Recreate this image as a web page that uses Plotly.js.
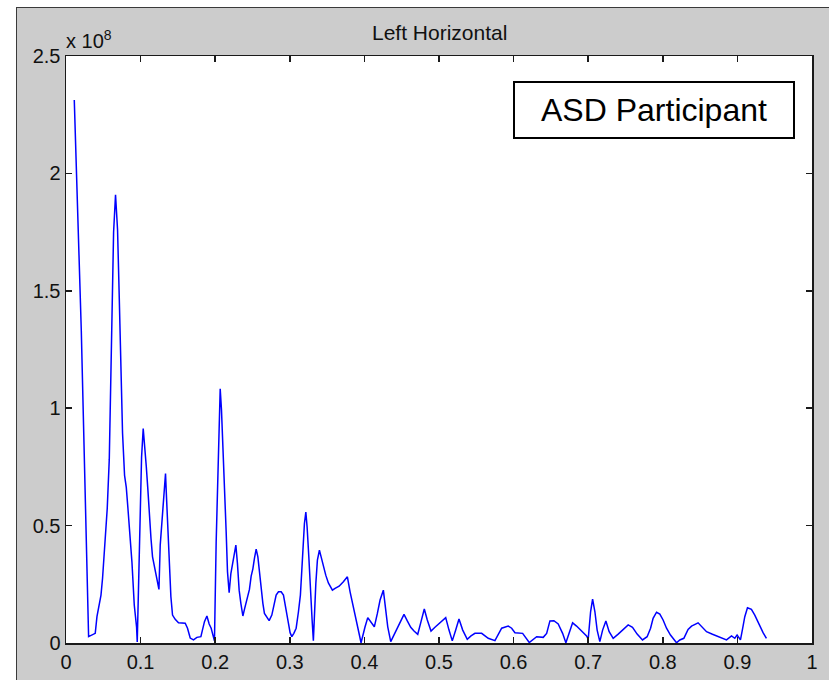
<!DOCTYPE html>
<html>
<head>
<meta charset="utf-8">
<script src="https://cdn.plot.ly/plotly-3.0.1.min.js"></script>
<style>
  html, body { margin: 0; padding: 0; background: #ffffff; width: 829px; height: 680px; overflow: hidden; }
  #frame { position: absolute; left: 16px; top: 7px; width: 813px; height: 673px;
           border-left: 1px solid #3a3a3a; border-top: 1px solid #3a3a3a; background: #cccccc; }
  #chart { position: absolute; left: 0; top: 0; width: 812px; height: 672px; }
</style>
</head>
<body>
<div id="frame"><div id="chart"></div></div>
<script>
// Frequency (normalised) of each spectrum sample
const freq = [
0.0111,0.0205,0.0303,0.0370,0.0392,0.0415,0.0442,0.0469,0.0490,0.0509,
0.0530,0.0553,0.0580,0.0603,0.0616,0.0638,0.0664,0.0691,0.0714,0.0737,
0.0758,0.0785,0.0808,0.0830,0.0857,0.0884,0.0915,0.0928,0.0946,0.0955,
0.0964,0.0982,0.0995,0.1013,0.1035,0.1053,0.1076,0.1098,0.1116,0.1139,
0.1160,0.1187,0.1210,0.1227,0.1246,0.1263,0.1290,0.1317,0.1334,0.1343,
0.1361,0.1384,0.1406,0.1428,0.1464,0.1508,0.1598,0.1629,0.1665,0.1709,
0.1755,0.1808,0.1856,0.1889,0.1919,0.1946,0.1990,0.2013,0.2033,0.2049,
0.2067,0.2084,0.2107,0.2124,0.2147,0.2165,0.2187,0.2210,0.2231,0.2258,
0.2277,0.2298,0.2321,0.2344,0.2371,0.2392,0.2415,0.2438,0.2459,0.2482,
0.2505,0.2526,0.2549,0.2572,0.2593,0.2616,0.2639,0.2660,0.2692,0.2723,
0.2759,0.2790,0.2817,0.2848,0.2884,0.2915,0.2937,0.2960,0.2982,0.3004,
0.3027,0.3054,0.3085,0.3116,0.3142,0.3161,0.3178,0.3196,0.3215,0.3232,
0.3255,0.3276,0.3299,0.3316,0.3330,0.3349,0.3370,0.3397,0.3420,0.3450,
0.3482,0.3517,0.3571,0.3607,0.3661,0.3718,0.3772,0.3808,0.3852,0.3898,
0.3933,0.3955,0.3978,0.4009,0.4045,0.4085,0.4133,0.4174,0.4210,0.4254,
0.4286,0.4313,0.4353,0.4397,0.4442,0.4487,0.4531,0.4575,0.4621,0.4665,
0.4715,0.4759,0.4803,0.4843,0.4893,0.4946,0.5013,0.5090,0.5134,0.5178,
0.5224,0.5268,0.5318,0.5379,0.5429,0.5482,0.5572,0.5660,0.5750,0.5794,
0.5840,0.5928,0.5974,0.6018,0.6121,0.6210,0.6263,0.6309,0.6397,0.6443,
0.6487,0.6540,0.6598,0.6657,0.6701,0.6745,0.6791,0.6844,0.6889,0.6933,
0.6978,0.7000,0.7032,0.7059,0.7090,0.7120,0.7156,0.7193,0.7237,0.7281,
0.7335,0.7402,0.7469,0.7536,0.7594,0.7656,0.7728,0.7790,0.7836,0.7870,
0.7916,0.7960,0.8004,0.8050,0.8103,0.8184,0.8228,0.8282,0.8339,0.8385,
0.8473,0.8519,0.8586,0.8666,0.8741,0.8854,0.8921,0.8965,0.8996,0.9041,
0.9068,0.9099,0.9135,0.9188,0.9233,0.9290,0.9344,0.9389
];
// Spectral amplitude, in units of 10^8
const amplitudeE8 = [
2.313,1.331,0.027,0.038,0.041,0.112,0.157,0.204,0.276,0.374,
0.473,0.574,0.782,1.118,1.426,1.749,1.909,1.760,1.471,1.178,
0.893,0.714,0.663,0.574,0.472,0.344,0.162,0.119,0.068,0.004,
0.128,0.341,0.574,0.792,0.913,0.856,0.753,0.651,0.544,0.446,
0.367,0.324,0.282,0.247,0.228,0.417,0.537,0.651,0.722,0.651,
0.502,0.346,0.197,0.119,0.101,0.086,0.084,0.063,0.021,0.013,
0.024,0.027,0.091,0.115,0.081,0.063,0.009,0.431,0.685,0.951,
1.083,0.994,0.821,0.643,0.473,0.303,0.214,0.296,0.339,0.381,
0.417,0.339,0.225,0.169,0.115,0.143,0.169,0.197,0.228,0.285,
0.316,0.360,0.400,0.367,0.296,0.218,0.169,0.126,0.112,0.095,
0.119,0.169,0.204,0.218,0.218,0.204,0.169,0.119,0.084,0.044,
0.027,0.041,0.063,0.133,0.204,0.310,0.409,0.509,0.558,0.494,
0.367,0.218,0.098,0.010,0.140,0.254,0.353,0.395,0.367,0.324,
0.289,0.256,0.225,0.233,0.242,0.261,0.282,0.218,0.148,0.077,
0.034,0.001,0.034,0.069,0.108,0.091,0.069,0.126,0.183,0.225,
0.148,0.069,0.006,0.034,0.063,0.091,0.122,0.094,0.067,0.051,
0.037,0.091,0.145,0.098,0.051,0.067,0.086,0.108,0.055,0.009,
0.055,0.102,0.055,0.016,0.030,0.041,0.041,0.020,0.010,0.034,
0.063,0.072,0.063,0.044,0.041,0.002,0.017,0.027,0.024,0.041,
0.094,0.095,0.081,0.041,0.001,0.048,0.086,0.072,0.058,0.041,
0.030,0.016,0.133,0.187,0.133,0.055,0.006,0.055,0.094,0.048,
0.020,0.038,0.058,0.077,0.067,0.038,0.013,0.027,0.063,0.105,
0.131,0.123,0.098,0.063,0.034,0.001,0.013,0.020,0.058,0.072,
0.086,0.072,0.048,0.037,0.027,0.013,0.030,0.020,0.034,0.013,
0.058,0.112,0.150,0.143,0.119,0.077,0.044,0.020
];
const xTicks = [0,0.1,0.2,0.3,0.4,0.5,0.6,0.7,0.8,0.9,1];
const xTickText = ['0','0.1','0.2','0.3','0.4','0.5','0.6','0.7','0.8','0.9','1'];
const yTicks = [0,0.5,1,1.5,2,2.5];
const yTickText = ['0','0.5','1','1.5','2','2.5'];
const chartTitle = 'Left Horizontal';
const exponentLabel = 'x 10<sup>8</sup>';
const boxLabel = 'ASD Participant';

const FONT = 'Liberation Sans, Arial, Helvetica, sans-serif';

const trace = {
  x: freq, y: amplitudeE8, type: 'scatter', mode: 'lines',
  line: {color: '#0000ff', width: 1.5}, hoverinfo: 'skip'
};

const axisCommon = {
  showline: true, linecolor: '#1a1a1a', linewidth: 1.5, mirror: 'ticks',
  ticks: 'inside', ticklen: 6, tickwidth: 1.5, tickcolor: '#1a1a1a',
  showgrid: false, zeroline: false, fixedrange: true,
  tickfont: {family: FONT, size: 20, color: '#111111'}
};

const layout = {
  width: 812, height: 672,
  margin: {l: 49, r: 17, t: 48, b: 37, pad: 0},
  paper_bgcolor: '#cccccc', plot_bgcolor: '#ffffff',
  showlegend: false,
  xaxis: Object.assign({}, axisCommon, {range: [0, 1], tickmode: 'array', tickvals: xTicks, ticktext: xTickText}),
  yaxis: Object.assign({}, axisCommon, {range: [0, 2.5], tickmode: 'array', tickvals: yTicks, ticktext: yTickText}),
  annotations: [
    {text: chartTitle, xref: 'paper', yref: 'paper', x: 0.5, y: 1, xanchor: 'center', yanchor: 'middle',
     yshift: 24, showarrow: false, font: {family: FONT, size: 21, color: '#111111'}},
    {text: exponentLabel, xref: 'paper', yref: 'paper', x: 0, y: 1, xanchor: 'left', yanchor: 'bottom',
     yshift: 2, xshift: -2, showarrow: false, font: {family: FONT, size: 20, color: '#111111'}},
    {text: boxLabel, xref: 'paper', yref: 'paper', x: 0.7882, y: 0.9074, xanchor: 'center', yanchor: 'middle',
     showarrow: false, width: 278, height: 54, borderpad: 0, bordercolor: '#000000', borderwidth: 2,
     bgcolor: '#ffffff', font: {family: FONT, size: 32, color: '#000000'}}
  ]
};

Plotly.newPlot('chart', [trace], layout, {staticPlot: true, displayModeBar: false});
</script>
</body>
</html>
